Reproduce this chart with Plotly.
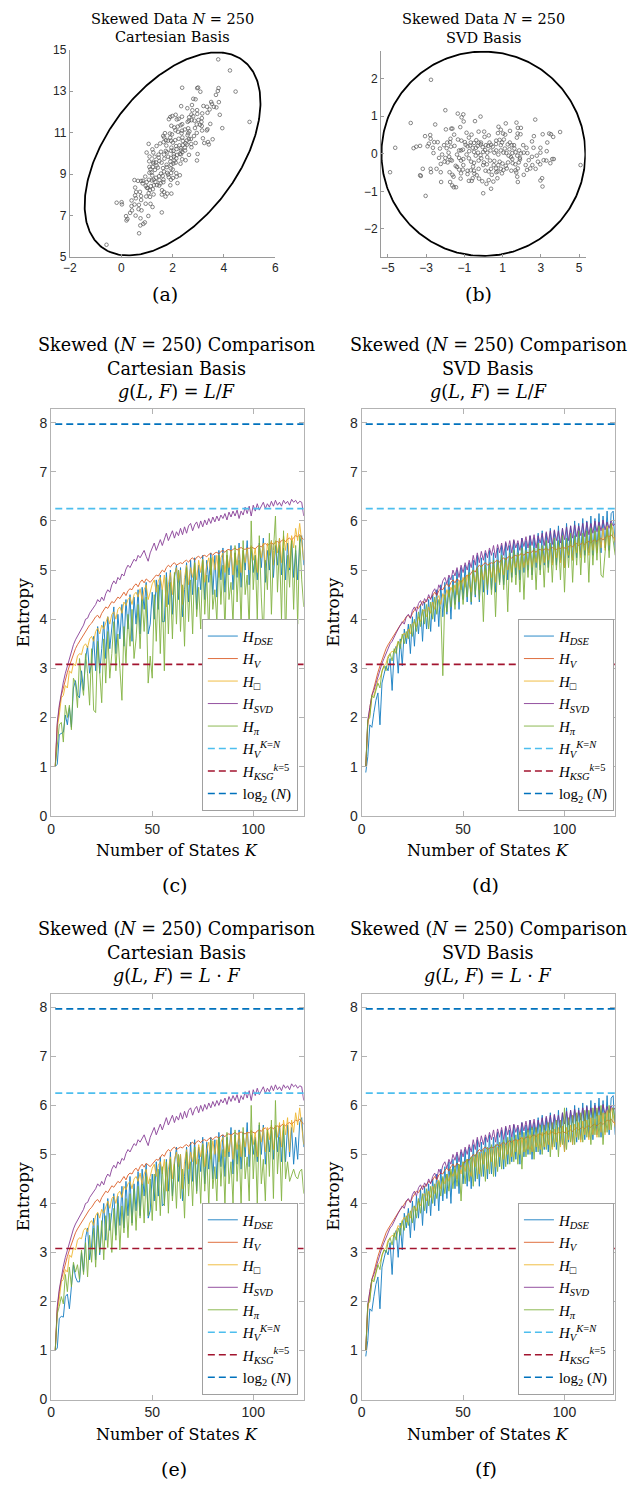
import numpy as np
import plotly.graph_objects as go

W, H = 631, 1487

# ---------------- scatter data (SVD basis coordinates, panel b) ----------------
U = [-2.74,-1.99,-1.34,-1.05,-1.14,-1.03,-0.15,-0.44,2.71,-3.80,
     -2.52,1.17,1.73,0.79,1.80,1.96,-1.96,-1.68,-1.62,-1.21,
     0.91,1.39,4.01,-0.25,0.04,0.28,-0.62,-1.53,-3.05,-2.78,
     -2.76,-0.76,0.06,0.76,1.03,1.14,1.79,1.94,1.75,3.10,
     3.44,3.53,3.65,2.64,-1.33,-1.15,-1.72,-1.74,-1.89,-2.39,
     -2.57,-2.85,-0.13,-0.13,-0.66,-0.49,-0.93,-0.83,-0.69,-0.56,
     -0.39,-0.30,-0.04,0.13,0.25,0.40,0.49,0.66,0.67,0.85,
     1.07,0.97,1.27,1.38,1.48,1.60,1.36,1.62,1.68,1.87,
     2.25,2.54,2.62,2.98,3.34,-3.65,-3.51,-3.31,-2.92,-2.64,
     -2.27,-1.92,-1.70,-1.51,-1.17,-1.07,-1.27,-0.74,-0.88,-0.49,
     -0.28,-0.15,-0.01,0.09,0.20,0.37,0.67,0.91,1.05,1.20,
     1.32,1.44,1.51,1.77,1.96,1.91,2.30,2.54,2.79,2.98,
     3.31,-4.61,-2.61,-2.16,-2.32,-1.99,-2.03,-2.23,-1.87,-1.72,
     -1.79,-1.65,-1.27,-1.17,-1.05,-0.64,-0.49,-0.25,0.03,0.18,
     0.35,0.57,0.85,1.00,1.17,1.29,1.53,1.67,1.85,1.91,
     2.21,2.56,2.85,2.97,3.15,3.29,3.50,3.60,3.68,-1.45,
     -1.38,-1.07,-0.83,-0.66,-0.49,-0.25,-0.01,0.11,0.28,0.40,
     0.66,0.74,0.91,1.05,1.22,1.68,1.80,2.28,2.45,2.73,
     -4.88,-3.17,-2.76,-2.74,-2.23,-1.77,-1.62,-1.17,-0.83,-0.47,
     -0.35,0.67,0.97,1.72,-3.31,-3.27,-1.56,-1.19,-0.56,-0.23,
     -0.61,0.28,0.52,0.73,1.77,1.80,-2.21,-1.74,-1.63,-1.55,
     -1.43,-0.76,-0.06,0.16,0.40,-0.01,3.09,2.98,3.07,-3.02,
     -0.97,-0.37,-0.25,0.32,0.57,0.78,1.12,0.54,-0.11,-0.76,
     -1.38,2.08,2.37,-2.06,-2.45,-1.27,0.44,1.46,2.11,-1.05,
     0.91,-0.40,0.20,1.51,2.11,-1.82,-0.54,0.78,-0.88,5.08]
V = [1.97,1.16,1.07,1.05,0.97,0.86,0.99,0.87,0.91,0.82,
     0.78,0.81,0.83,0.72,0.69,0.69,0.65,0.67,0.67,0.71,
     0.64,0.61,0.58,0.59,0.59,0.49,0.51,0.51,0.47,0.50,
     0.40,0.43,0.45,0.55,0.54,0.51,0.54,0.52,0.43,0.52,
     0.54,0.52,0.45,0.47,0.38,0.35,0.40,0.31,0.30,0.31,
     0.31,0.27,0.30,0.25,0.30,0.29,0.24,0.20,0.22,0.16,
     0.16,0.21,0.18,0.23,0.21,0.24,0.19,0.26,0.35,0.37,
     0.38,0.30,0.25,0.30,0.23,0.23,0.12,0.14,0.04,0.09,
     0.16,0.33,0.16,0.16,0.30,0.15,0.19,0.21,0.20,0.16,
     0.14,0.15,0.19,0.21,0.09,0.11,0.09,0.07,-0.02,0.05,
     0.03,-0.04,0.05,0.10,0.03,0.09,0.09,0.09,0.03,0.02,
     -0.05,-0.09,0.02,-0.05,0.01,-0.11,0.02,-0.08,-0.05,0.03,
     0.07,0.16,0.02,-0.02,-0.11,-0.11,-0.21,-0.27,-0.23,-0.16,
     -0.08,-0.18,-0.11,-0.18,-0.14,-0.21,-0.24,-0.18,-0.23,-0.28,
     -0.18,-0.19,-0.21,-0.26,-0.32,-0.23,-0.25,-0.28,-0.23,-0.15,
     -0.30,-0.30,-0.21,-0.28,-0.17,-0.18,-0.25,-0.14,-0.14,-0.32,
     -0.35,-0.42,-0.45,-0.44,-0.45,-0.40,-0.30,-0.45,-0.47,-0.40,
     -0.39,-0.47,-0.40,-0.43,-0.39,-0.44,-0.39,-0.43,-0.39,-0.40,
     -0.49,-0.40,-0.40,-0.49,-0.49,-0.49,-0.56,-0.52,-0.54,-0.53,
     -0.57,-0.49,-0.52,-0.50,-0.57,-0.59,-0.61,-0.66,-0.65,-0.66,
     -0.72,-0.70,-0.74,-0.65,-0.61,-0.75,-0.75,-0.75,-0.84,-0.89,
     -0.89,-0.72,-0.73,-0.80,-0.93,-1.05,-0.87,-0.71,-0.65,-1.12,
     0.31,0.36,0.30,0.30,0.03,-0.02,0.14,-0.30,-0.12,-0.12,
     -0.02,0.23,-0.17,0.23,-0.40,-0.42,-0.56,-0.45,-0.56,-0.30,
     0.23,-0.05,-0.09,-0.14,0.03,0.03,-0.34,-0.30,0.56,-0.30]

# basis change: data centre and direction of first singular vector
CENTER = (2.0, 9.97)
ROT_DEG = 63.0
ELLIPSE_SEMI = (5.33, 2.72)   # bounding ellipse in SVD basis

# ---------------- entropy curves ----------------
K = list(range(2, 126))

H_V = [1.00,1.85,2.20,2.45,2.60,2.78,2.92,3.05,3.18,3.28,
       3.40,3.48,3.55,3.62,3.70,3.75,3.82,3.88,3.92,3.98,
       4.05,4.08,4.02,4.12,4.20,4.25,4.22,4.30,4.36,4.33,
       4.40,4.45,4.42,4.50,4.55,4.48,4.58,4.62,4.60,4.68,
       4.72,4.66,4.75,4.80,4.74,4.82,4.78,4.75,4.80,4.85,
       4.90,4.88,4.95,5.00,4.96,5.05,5.10,5.06,5.12,5.15,
       5.10,5.12,5.15,5.13,5.18,5.20,5.16,5.22,5.25,5.20,
       5.26,5.28,5.24,5.29,5.30,5.27,5.32,5.34,5.30,5.35,
       5.36,5.33,5.38,5.40,5.36,5.41,5.42,5.39,5.43,5.45,
       5.41,5.44,5.46,5.43,5.42,5.45,5.44,5.47,5.45,5.43,
       5.48,5.50,5.47,5.52,5.54,5.50,5.53,5.56,5.52,5.57,
       5.58,5.55,5.60,5.62,5.58,5.63,5.65,5.61,5.66,5.70,
       5.68,5.72,5.66,5.62]

H_SVD_CART = [1.00,1.90,2.25,2.50,2.72,2.90,3.05,3.20,3.35,3.48,
              3.58,3.66,3.72,3.80,3.88,4.00,4.02,4.12,4.18,4.22,
              4.30,4.40,4.35,4.45,4.38,4.52,4.60,4.55,4.70,4.78,
              4.72,4.85,4.80,4.92,4.88,5.02,5.10,5.05,5.15,5.22,
              5.18,5.30,5.25,5.32,5.40,5.28,5.18,5.35,5.45,5.55,
              5.40,5.52,5.62,5.50,5.65,5.75,5.60,5.72,5.80,5.65,
              5.78,5.70,5.85,5.72,5.88,5.75,5.90,5.95,5.80,5.92,
              5.98,5.85,6.00,5.88,6.02,5.92,6.05,5.95,6.08,5.98,
              6.10,6.00,6.12,6.05,6.15,6.02,6.18,6.08,6.20,6.10,
              6.22,6.05,6.20,6.12,6.28,6.15,6.30,6.10,6.32,6.20,
              6.35,6.22,6.30,6.38,6.25,6.35,6.28,6.40,6.30,6.42,
              6.32,6.38,6.30,6.42,6.35,6.40,6.32,6.44,6.38,6.42,
              6.35,6.40,6.38,6.10]

H_BOX_CART = [1.00,1.80,2.05,2.40,2.45,2.65,2.60,2.95,2.90,3.10,
              3.05,3.25,3.30,3.28,3.45,3.50,3.42,3.60,3.65,3.55,
              3.75,3.82,3.70,3.88,3.80,3.95,4.05,3.90,4.10,4.15,
              4.00,4.20,4.25,4.12,4.35,4.28,4.40,4.45,4.30,4.50,
              4.55,4.45,4.62,4.38,4.60,4.70,4.40,4.55,4.72,4.80,
              4.55,4.78,4.85,4.60,4.90,4.25,4.70,4.95,4.50,4.90,
              5.05,4.75,5.00,4.30,4.85,5.10,4.70,5.05,4.85,5.15,
              4.80,5.20,4.95,5.22,4.75,5.10,5.25,4.90,5.28,5.00,
              5.30,4.85,5.25,5.35,4.95,5.30,5.05,5.40,4.90,5.35,
              5.10,5.45,4.95,5.40,5.15,5.45,5.00,5.50,5.20,5.45,
              4.95,5.50,5.25,5.55,5.05,5.55,5.30,5.60,5.10,5.60,
              5.35,5.65,5.15,5.70,5.40,5.75,5.05,5.70,5.45,5.85,
              5.60,5.95,5.50,5.20]

H_DSE_CART_DIV = [1.00,1.05,1.65,1.68,1.70,2.05,1.85,2.20,1.80,2.60,
                  2.75,2.45,2.40,2.95,2.55,3.20,3.45,2.90,3.10,3.65,
                  2.95,3.85,2.90,3.40,3.95,3.20,4.05,3.40,3.85,4.25,
                  3.30,4.10,3.60,4.30,3.45,4.40,3.80,4.50,3.55,4.45,
                  3.90,4.60,3.70,4.65,4.20,4.75,3.70,3.90,4.55,4.00,
                  4.80,4.20,4.90,3.95,3.95,4.95,4.30,5.00,4.10,4.85,
                  5.10,4.40,5.05,4.05,4.60,5.15,4.35,5.20,4.50,5.25,
                  4.20,5.10,4.60,5.30,4.40,5.20,4.75,5.35,4.50,5.30,
                  4.45,5.40,4.80,5.45,4.55,5.30,4.90,5.50,4.60,5.35,
                  4.85,5.55,4.65,5.40,5.00,5.60,4.70,5.45,4.95,5.30,
                  4.80,5.55,5.05,5.65,4.75,5.40,5.00,5.60,4.85,5.50,
                  5.10,5.65,4.90,5.45,4.80,5.55,5.00,5.60,4.85,5.40,
                  4.80,5.55,5.70,5.10]

H_PI_CART_DIV = [1.00,1.50,1.85,1.90,1.50,2.25,2.00,2.25,1.75,2.80,
                 2.70,2.20,3.20,2.75,2.45,3.30,2.90,2.25,3.40,2.15,
                 2.10,3.55,2.95,2.30,3.60,2.70,3.75,2.80,3.30,3.95,
                 2.95,3.70,3.00,2.35,3.85,3.10,4.10,3.45,4.20,3.20,
                 3.60,4.30,3.40,4.40,3.75,4.45,2.70,3.25,2.80,4.50,
                 3.55,4.70,3.30,4.60,2.95,4.85,3.70,4.75,3.60,4.95,
                 3.90,5.00,3.75,4.70,3.45,5.05,3.95,4.80,3.70,5.15,
                 4.05,4.65,3.80,5.20,4.10,4.90,3.65,5.25,4.20,4.60,
                 3.95,5.30,4.30,5.10,3.75,5.40,4.40,4.75,3.90,5.50,
                 4.35,5.20,3.85,5.60,4.50,4.90,3.80,6.00,4.60,5.30,
                 4.00,5.70,4.45,3.60,5.20,4.60,5.75,4.10,5.40,6.10,
                 4.55,5.50,4.00,5.80,3.50,5.30,4.65,5.60,4.20,5.50,
                 3.90,5.70,4.80,4.25]

H_DSE_CART_MUL = [1.00,1.05,1.65,1.70,1.68,2.10,2.15,1.85,2.30,2.75,
                  2.50,2.40,2.40,3.00,2.60,3.30,3.50,2.85,3.15,3.70,
                  2.85,3.80,2.95,3.45,4.00,3.25,4.10,3.45,3.90,4.20,
                  3.35,4.15,3.55,4.35,3.50,4.45,3.75,4.55,3.60,4.40,
                  3.85,4.65,3.75,4.70,4.15,4.80,3.70,3.85,4.60,4.05,
                  4.85,4.15,4.95,3.95,4.00,4.90,4.25,5.05,4.15,4.80,
                  5.15,4.45,5.00,4.05,4.55,5.15,4.40,5.25,4.45,5.30,
                  4.25,5.15,4.65,5.35,4.40,5.25,4.70,5.35,4.50,5.30,
                  4.50,5.45,4.75,5.40,4.55,5.35,4.95,5.55,4.60,5.40,
                  4.80,5.50,4.70,5.45,4.95,5.65,4.75,5.40,5.00,5.35,
                  4.85,5.60,5.00,5.60,4.80,5.45,5.05,5.55,4.90,5.55,
                  5.05,5.60,4.85,5.50,4.85,5.60,4.95,5.55,4.80,5.35,
                  4.90,5.65,5.75,5.15]

H_PI_CART_MUL = [1.00,1.75,1.90,2.10,1.95,2.55,2.20,2.70,2.30,2.80,
                 2.60,2.75,2.45,3.05,2.55,3.20,2.50,3.35,2.80,3.50,
                 2.70,3.55,3.00,3.65,2.85,3.75,3.10,3.80,3.00,3.90,
                 3.25,4.00,3.05,3.95,3.40,4.10,3.30,4.20,3.55,4.30,
                 3.45,4.35,3.70,4.40,3.60,4.55,3.75,4.50,3.65,4.60,
                 3.85,4.70,3.75,4.75,3.95,4.85,3.80,4.90,4.05,4.80,
                 3.90,5.00,4.10,4.70,3.70,5.05,4.15,4.85,3.95,5.15,
                 4.20,4.90,4.00,5.20,4.25,5.00,3.95,5.30,4.30,4.75,
                 4.05,5.35,4.35,5.10,3.95,5.45,4.40,4.85,4.00,5.50,
                 4.45,5.20,3.95,5.55,4.50,4.95,4.05,6.00,4.50,5.30,
                 4.00,5.65,4.40,4.90,4.05,5.50,4.55,5.70,4.10,6.10,
                 4.60,5.35,4.05,5.60,4.50,4.85,4.45,4.60,4.70,4.55,
                 4.50,4.65,4.70,4.20]

H_SVD_SVD = [1.00,1.95,2.20,2.45,2.55,2.70,2.85,2.95,3.10,3.20,
             3.30,3.40,3.50,3.55,3.65,3.72,3.80,3.88,3.95,3.90,
             4.05,4.10,4.02,4.18,4.25,4.15,4.32,4.38,4.28,4.42,
             4.35,4.50,4.40,4.55,4.62,4.50,4.70,4.60,4.78,4.85,
             4.72,4.90,4.80,5.00,4.88,5.05,4.85,5.10,4.95,5.15,
             5.00,5.20,5.05,5.30,5.10,5.35,5.15,5.38,5.20,5.40,
             5.25,5.45,5.30,5.50,5.25,5.52,5.35,5.55,5.30,5.58,
             5.40,5.60,5.35,5.62,5.45,5.60,5.40,5.65,5.48,5.68,
             5.45,5.70,5.50,5.72,5.45,5.70,5.55,5.75,5.50,5.78,
             5.55,5.80,5.52,5.82,5.60,5.80,5.55,5.85,5.62,5.88,
             5.60,5.90,5.65,5.92,5.68,5.90,5.70,5.95,5.68,5.98,
             5.72,5.95,5.75,6.00,5.78,5.98,5.80,6.02,5.82,5.98,
             5.85,6.00,5.90,5.95]

H_BOX_SVD = [1.00,1.90,2.05,2.40,2.45,2.60,2.75,2.80,2.95,3.05,
             3.10,3.25,3.30,3.35,3.32,3.45,3.55,3.50,3.65,3.72,
             3.62,3.80,3.70,3.90,3.95,3.85,4.05,3.95,4.15,4.20,
             4.05,4.25,4.12,4.35,4.20,4.40,4.48,4.30,4.52,4.40,
             4.60,4.45,4.65,4.55,4.70,4.50,4.78,4.60,4.85,4.65,
             4.90,4.70,4.55,4.95,4.75,5.00,4.60,5.02,4.80,5.05,
             4.70,5.10,4.85,5.12,4.75,5.15,4.95,5.20,4.90,5.20,
             5.00,5.25,4.95,5.28,5.05,5.30,5.00,5.35,5.05,5.32,
             5.10,5.40,5.05,5.38,5.15,5.42,5.10,5.45,5.15,5.48,
             5.20,5.50,5.10,5.52,5.25,5.55,5.15,5.58,5.05,5.55,
             5.30,5.60,5.20,5.62,5.35,5.65,5.25,5.68,5.40,5.70,
             5.30,5.75,5.40,5.72,5.35,5.80,5.45,5.85,5.40,5.90,
             5.50,5.95,5.80,5.55]

H_DSE_SVD = [0.88,1.20,1.85,1.80,2.10,2.35,2.50,1.85,2.70,2.90,
             3.05,2.95,3.20,2.55,3.35,3.45,2.90,3.60,3.05,3.80,
             3.50,3.90,3.30,4.05,3.45,4.15,3.70,4.30,3.55,4.35,
             3.80,4.40,3.75,4.50,3.95,4.60,3.85,4.70,4.05,4.75,
             4.10,4.85,4.00,4.90,4.30,5.00,4.20,5.05,4.40,5.10,
             4.35,5.15,4.30,5.20,4.45,5.30,4.35,5.25,4.55,5.35,
             4.50,5.40,4.60,5.35,4.55,5.45,4.75,5.50,4.70,5.55,
             4.80,5.50,4.85,5.60,4.90,5.55,4.80,5.65,4.95,5.60,
             5.00,5.70,4.90,5.65,5.05,5.75,5.00,5.80,5.10,5.75,
             5.05,5.85,5.15,5.80,5.10,5.90,5.20,5.85,5.05,5.95,
             5.25,5.90,5.20,6.00,5.25,5.95,5.30,6.05,5.30,6.00,
             5.35,6.10,5.30,6.05,5.40,6.15,5.35,6.10,5.45,6.20,
             5.40,6.15,6.20,5.40]

H_PI_SVD_DIV = [1.00,1.95,2.00,2.45,2.40,2.55,2.70,2.60,2.95,3.05,
                2.95,3.20,3.30,3.15,3.40,3.30,3.55,3.40,3.70,3.50,
                3.75,3.60,3.90,3.65,4.00,3.75,4.15,3.85,4.20,3.90,
                4.30,3.80,4.35,4.00,4.45,4.10,4.40,4.20,2.85,4.50,
                4.15,4.60,4.25,4.70,4.20,4.75,4.35,4.80,4.30,4.85,
                4.45,4.95,4.35,5.00,4.50,5.05,4.40,5.10,3.95,5.10,
                4.60,5.15,4.50,5.20,4.05,5.20,4.70,5.30,4.60,5.25,
                4.15,5.35,4.75,5.40,4.70,5.35,4.55,5.45,4.40,5.40,
                4.85,5.50,4.80,5.45,4.60,5.55,4.90,5.50,4.65,5.60,
                4.95,5.55,4.75,5.65,5.00,5.60,4.80,5.70,4.55,5.65,
                5.05,5.75,4.75,5.70,5.10,5.80,4.90,5.75,5.15,5.80,
                4.75,5.85,5.10,5.80,5.20,5.90,4.90,4.85,5.30,5.85,
                5.25,5.95,5.60,5.30]

H_PI_SVD_MUL = [1.00,1.95,2.00,2.45,2.40,2.55,2.75,2.65,2.95,3.05,
                3.00,3.20,3.30,3.15,3.40,3.25,3.50,3.35,3.65,3.45,
                3.75,3.55,3.85,3.60,3.95,3.70,4.10,3.80,4.20,3.85,
                4.30,3.95,4.35,4.00,4.40,4.10,4.45,4.15,4.55,4.20,
                4.60,4.25,4.70,4.30,4.75,4.35,4.80,4.05,4.85,4.40,
                4.90,4.45,4.95,4.35,5.00,4.50,5.05,4.55,5.10,4.45,
                5.15,4.60,5.20,4.55,5.20,4.65,5.25,4.70,5.30,4.75,
                5.35,4.80,5.35,4.85,5.40,4.80,5.45,4.70,5.45,4.95,
                5.50,5.00,5.55,4.90,5.55,5.05,5.60,5.00,5.60,5.10,
                5.65,4.95,5.65,5.15,5.70,4.95,5.70,5.20,5.95,5.10,
                5.75,5.25,5.80,5.20,5.85,5.30,5.85,5.25,5.90,5.35,
                5.90,5.20,5.95,5.40,5.95,5.35,6.00,5.20,5.85,5.45,
                6.00,5.50,5.95,5.70]

H_V_KN = 6.25
H_KSG = 3.08
LOG2_N = 7.97

NAMES = ["<i>H</i><sub><i>DSE</i></sub>", "<i>H</i><sub><i>V</i></sub>",
         "<i>H</i><sub>□</sub>", "<i>H</i><sub><i>SVD</i></sub>",
         "<i>H</i><sub><i>π</i></sub>",
         "<i>H</i><sub><i>V</i></sub><sup><i>K</i>=<i>N</i></sup>",
         "<i>H</i><sub><i>KSG</i></sub><sup><i>k</i>=5</sup>",
         "log<sub>2</sub> (<i>N</i>)"]
COLORS = ["#0072BD", "#D95319", "#EDB120", "#7E2F8E", "#77AC30",
          "#4DBEEE", "#A2142F", "#0072BD"]

SERIF = "DejaVu Serif"
LSERIF = "Liberation Serif"
SANS = "Liberation Sans"
TICKC = "#262626"


def px(x):
    return x / W


def py(y):
    return 1 - y / H


fig = go.Figure()

# ---------------- panels (a) and (b) ----------------
th = np.deg2rad(ROT_DEG)
e1 = np.array([-np.cos(th), -np.sin(th)])
e2 = np.array([np.sin(th), -np.cos(th)])
u = np.array(U)
v = np.array(V)
xa = CENTER[0] + u * e1[0] + v * e2[0]
ya = CENTER[1] + u * e1[1] + v * e2[1]

t = np.linspace(0, 2 * np.pi, 361)
eu = ELLIPSE_SEMI[0] * np.cos(t)
ev = ELLIPSE_SEMI[1] * np.sin(t)
exa = CENTER[0] + eu * e1[0] + ev * e2[0]
eya = CENTER[1] + eu * e1[1] + ev * e2[1]

mk = dict(symbol="circle-open", size=3.6, color="#555555", line=dict(width=0.7))
fig.add_trace(go.Scatter(x=xa, y=ya, mode="markers", marker=mk, xaxis="x", yaxis="y", showlegend=False))
fig.add_trace(go.Scatter(x=exa, y=eya, mode="lines", line=dict(color="black", width=1.8),
                         xaxis="x", yaxis="y", showlegend=False))
fig.add_trace(go.Scatter(x=u, y=v, mode="markers", marker=mk, xaxis="x2", yaxis="y2", showlegend=False))
fig.add_trace(go.Scatter(x=eu, y=ev, mode="lines", line=dict(color="black", width=1.8),
                         xaxis="x2", yaxis="y2", showlegend=False))

# ---------------- panels (c)-(f) ----------------
panels = [
    ("x3", "y3", "legend", [H_DSE_CART_DIV, H_V, H_BOX_CART, H_SVD_CART, H_PI_CART_DIV]),
    ("x4", "y4", "legend2", [H_DSE_SVD, H_V, H_BOX_SVD, H_SVD_SVD, H_PI_SVD_DIV]),
    ("x5", "y5", "legend3", [H_DSE_CART_MUL, H_V, H_BOX_CART, H_SVD_CART, H_PI_CART_MUL]),
    ("x6", "y6", "legend4", [H_DSE_SVD, H_V, H_BOX_SVD, H_SVD_SVD, H_PI_SVD_MUL]),
]
for xr, yr, lg, series in panels:
    for i, s in enumerate(series):
        fig.add_trace(go.Scatter(x=K[:len(s)], y=s, mode="lines", name=NAMES[i],
                                 line=dict(color=COLORS[i], width=0.95), opacity=0.88,
                                 xaxis=xr, yaxis=yr, legend=lg))
    for j, val in enumerate([H_V_KN, H_KSG, LOG2_N]):
        fig.add_trace(go.Scatter(x=[K[0], K[-1]], y=[val, val], mode="lines", name=NAMES[5 + j],
                                 line=dict(color=COLORS[5 + j], width=1.6, dash="7px,4px"),
                                 xaxis=xr, yaxis=yr, legend=lg))

# ---------------- axes ----------------
def small_axis(domain, rng, tickvals, anchor):
    return dict(domain=domain, range=rng, tickvals=tickvals, anchor=anchor,
                showline=True, linecolor="#9a9a9a", linewidth=1, mirror=False,
                ticks="inside", ticklen=3, tickcolor="#9a9a9a",
                tickfont=dict(family=SANS, size=12, color=TICKC),
                showgrid=False, zeroline=False)


def big_axis(domain, rng, tickvals, anchor):
    return dict(domain=domain, range=rng, tickvals=tickvals, anchor=anchor,
                showline=True, linecolor="#b3b3b3", linewidth=1, mirror="ticks",
                ticks="inside", ticklen=5, tickcolor="#b3b3b3",
                tickfont=dict(family=SANS, size=14, color=TICKC),
                showgrid=False, zeroline=False)


XL = [px(45), px(302)]
XR = [px(361), px(619)]
YT = [py(817), py(406)]
YB = [py(1406.7), py(996.7)]

layout = dict(
    width=W, height=H, margin=dict(l=0, r=0, t=0, b=0),
    paper_bgcolor="white", plot_bgcolor="white",
    xaxis=small_axis([px(64), px(273)], [-2, 6], [-2, 0, 2, 4, 6], "y"),
    yaxis=small_axis([py(252.3), py(43.3)], [5, 15], [5, 7, 9, 11, 13, 15], "x"),
    xaxis2=small_axis([px(380.7), px(589)], [-5.35, 5.35], [-5, -3, -1, 1, 3, 5], "y2"),
    yaxis2=small_axis([py(252.3), py(44.3)], [-2.74, 2.74], [-2, -1, 0, 1, 2], "x2"),
    xaxis3=big_axis(XL, [0, 125], [0, 50, 100], "y3"),
    yaxis3=big_axis(YT, [0, 8.28], list(range(0, 9)), "x3"),
    xaxis4=big_axis(XR, [0, 125], [0, 50, 100], "y4"),
    yaxis4=big_axis(YT, [0, 8.28], list(range(0, 9)), "x4"),
    xaxis5=big_axis(XL, [0, 125], [0, 50, 100], "y5"),
    yaxis5=big_axis(YB, [0, 8.28], list(range(0, 9)), "x5"),
    xaxis6=big_axis(XR, [0, 125], [0, 50, 100], "y6"),
    yaxis6=big_axis(YB, [0, 8.28], list(range(0, 9)), "x6"),
)

leg_common = dict(bgcolor="white", bordercolor="#a0a0a0", borderwidth=1,
                  font=dict(family=LSERIF, size=15, color="black"),
                  xanchor="right", yanchor="bottom", itemwidth=30, tracegroupgap=0)
layout["legend"] = dict(x=px(296), y=py(812), **leg_common)
layout["legend2"] = dict(x=px(617.7), y=py(812), **leg_common)
layout["legend3"] = dict(x=px(296), y=py(1401.7), **leg_common)
layout["legend4"] = dict(x=px(617.7), y=py(1401.7), **leg_common)

fig.update_layout(**layout)

ann = []


def text(x, y, s, size, angle=0, family=SERIF):
    ann.append(dict(x=px(x), y=py(y), xref="paper", yref="paper", text=s, showarrow=False,
                    xanchor="center", yanchor="middle", textangle=angle,
                    font=dict(family=family, size=size, color="black")))


# (a), (b)
text(168, 12, "Skewed Data <i>N</i> = 250", 14.5)
text(168, 30, "Cartesian Basis", 14.5)
text(485, 12, "Skewed Data <i>N</i> = 250", 14.5)
text(485, 31, "SVD Basis", 14.5)
text(161, 290, "(a)", 19)
text(480, 290, "(b)", 19)

# (c)-(f)
G_DIV = "<i>g</i>(<i>L</i>, <i>F</i>) = <i>L</i>/<i>F</i>"
G_MUL = "<i>g</i>(<i>L</i>, <i>F</i>) = <i>L</i> · <i>F</i>"
for cx, y0, basis, g, lab in [(173, 341.7, "Cartesian Basis", G_DIV, "(c)"),
                              (490, 341.7, "SVD Basis", G_DIV, "(d)"),
                              (173, 931.7, "Cartesian Basis", G_MUL, "(e)"),
                              (490, 931.7, "SVD Basis", G_MUL, "(f)")]:
    text(cx, y0, "Skewed (<i>N</i> = 250) Comparison", 17.6)
    text(cx, y0 + 24, basis, 17.6)
    text(cx, y0 + 47, g, 17.6)
    xlab_y = y0 + 510
    text(cx, xlab_y, "Number of States <i>K</i>", 16)
    text(cx - 3, xlab_y + 35, lab, 19)
    left = 16 if cx < 300 else 331
    text(left, y0 + 270, "Entropy", 17, angle=-90)

fig.update_layout(annotations=ann)
fig.write_html("out.html")
